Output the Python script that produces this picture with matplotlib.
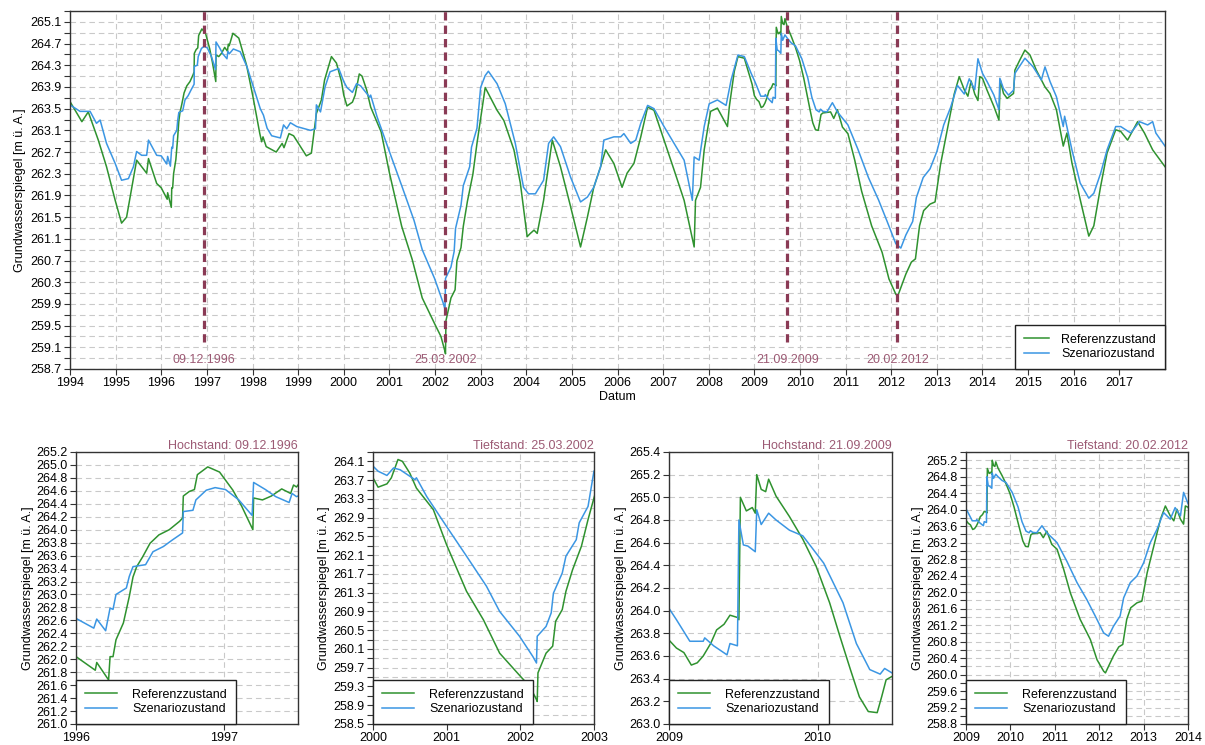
import datetime as dt

import matplotlib.pyplot as plt
import numpy as np

plt.rcParams['font.family'] = ['Liberation Sans', 'DejaVu Sans']
plt.rcParams['font.size'] = 9

# Referenzzustand (decimal year, m ü. A.)
ref_t = [1994.00, 1994.26, 1994.40, 1994.62, 1994.80, 1994.99, 1995.13, 1995.24, 1995.46, 1995.68,
         1995.72, 1995.90, 1996.00, 1996.13, 1996.14, 1996.22, 1996.23, 1996.25, 1996.27, 1996.32,
         1996.36, 1996.385, 1996.41, 1996.45, 1996.50, 1996.56, 1996.63, 1996.70, 1996.72, 1996.725,
         1996.765, 1996.80, 1996.82, 1996.89, 1996.97, 1997.06, 1997.12, 1997.195, 1997.20, 1997.26,
         1997.32, 1997.39, 1997.45, 1997.47, 1997.49, 1997.57, 1997.70, 1997.87, 1998.01, 1998.16,
         1998.20, 1998.23, 1998.30, 1998.52, 1998.65, 1998.69, 1998.80, 1998.90, 1999.18, 1999.29,
         1999.40, 1999.51, 1999.58, 1999.73, 1999.84, 1999.95, 2000.00, 2000.07, 2000.19, 2000.25,
         2000.34, 2000.40, 2000.50, 2000.59, 2000.82, 2001.00, 2001.27, 2001.50, 2001.72, 2002.00,
         2002.13, 2002.22, 2002.23, 2002.24, 2002.35, 2002.44, 2002.48, 2002.57, 2002.62, 2002.71,
         2002.83, 2002.92, 2003.00, 2003.10, 2003.36, 2003.51, 2003.73, 2003.87, 2004.02, 2004.09,
         2004.17, 2004.24, 2004.38, 2004.57, 2004.75, 2004.97, 2005.19, 2005.34, 2005.48, 2005.63,
         2005.74, 2005.92, 2006.10, 2006.21, 2006.36, 2006.51, 2006.66, 2006.80, 2007.02, 2007.24,
         2007.46, 2007.68, 2007.71, 2007.82, 2007.90, 2008.04, 2008.19, 2008.41, 2008.45, 2008.56,
         2008.64, 2008.78, 2008.95, 2009.00, 2009.05, 2009.10, 2009.15, 2009.19, 2009.23, 2009.28,
         2009.32, 2009.37, 2009.41, 2009.46, 2009.47, 2009.48, 2009.52, 2009.56, 2009.58, 2009.59,
         2009.62, 2009.65, 2009.67, 2009.72, 2009.81, 2009.90, 2009.99, 2010.08, 2010.15, 2010.22,
         2010.28, 2010.34, 2010.40, 2010.43, 2010.46, 2010.50, 2010.67, 2010.74, 2010.82, 2010.93,
         2011.05, 2011.20, 2011.35, 2011.57, 2011.80, 2011.95, 2012.10, 2012.14, 2012.32, 2012.44,
         2012.53, 2012.62, 2012.71, 2012.85, 2012.96, 2013.08, 2013.23, 2013.38, 2013.49, 2013.60,
         2013.68, 2013.75, 2013.83, 2013.90, 2013.94, 2014.00, 2014.10, 2014.25, 2014.36, 2014.39,
         2014.46, 2014.54, 2014.68, 2014.71, 2014.82, 2014.93, 2015.04, 2015.18, 2015.37, 2015.48,
         2015.62, 2015.77, 2015.85, 2015.96, 2016.14, 2016.33, 2016.44, 2016.59, 2016.73, 2016.92,
         2017.03, 2017.18, 2017.40, 2017.55, 2017.73, 2018.00]
ref_v = [263.63, 263.26, 263.44, 262.92, 262.43, 261.81, 261.39, 261.50, 262.55, 262.31,
         262.58, 262.12, 262.04, 261.83, 261.95, 261.68, 262.04, 262.04, 262.30, 262.56,
         262.97, 263.27, 263.43, 263.58, 263.79, 263.92, 264.00, 264.13, 264.18, 264.52,
         264.59, 264.62, 264.85, 264.97, 264.89, 264.61, 264.36, 264.00, 264.49, 264.46,
         264.52, 264.63, 264.56, 264.69, 264.66, 264.89, 264.80, 264.30, 263.72, 263.04,
         262.89, 262.98, 262.80, 262.70, 262.86, 262.78, 263.04, 263.00, 262.63, 262.68,
         263.41, 263.66, 264.03, 264.46, 264.34, 264.00, 263.75, 263.55, 263.62, 263.75,
         264.14, 264.10, 263.85, 263.53, 263.07, 262.32, 261.33, 260.72, 260.01, 259.52,
         259.30, 259.02, 258.98, 259.59, 260.01, 260.16, 260.69, 260.94, 261.33, 261.79,
         262.29, 262.86, 263.32, 263.89, 263.47, 263.28, 262.74, 262.13, 261.14, 261.20,
         261.26, 261.20, 261.81, 262.92, 262.43, 261.70, 260.95, 261.50, 262.05, 262.43,
         262.74, 262.49, 262.05, 262.31, 262.49, 262.98, 263.53, 263.47, 262.92, 262.37,
         261.81, 260.95, 261.81, 262.05, 262.74, 263.45, 263.51, 263.17, 263.53, 264.19,
         264.46, 264.43, 263.95, 263.74, 263.67, 263.63, 263.52, 263.54, 263.60, 263.71,
         263.83, 263.88, 263.96, 263.94, 263.92, 265.00, 264.88, 264.91, 264.86, 265.20,
         265.07, 265.05, 265.16, 265.01, 264.83, 264.63, 264.39, 264.07, 263.77, 263.48,
         263.24, 263.11, 263.10, 263.24, 263.39, 263.42, 263.44, 263.32, 263.48, 263.16,
         263.04, 262.55, 261.98, 261.34, 260.85, 260.36, 260.08, 260.04, 260.45, 260.67,
         260.73, 261.34, 261.62, 261.74, 261.78, 262.47, 263.12, 263.77, 264.09, 263.85,
         263.73, 264.01, 263.77, 263.65, 264.09, 264.06, 263.84, 263.54, 263.29, 264.03,
         263.78, 263.69, 263.78, 264.21, 264.40, 264.58, 264.49, 264.21, 263.90, 263.78,
         263.48, 262.81, 263.05, 262.50, 261.83, 261.15, 261.34, 262.07, 262.68, 263.11,
         263.08, 262.92, 263.26, 263.05, 262.74, 262.43]

# Szenariozustand
szen_t = [1994.00, 1994.22, 1994.44, 1994.58, 1994.66, 1994.80, 1994.99, 1995.13, 1995.28, 1995.39,
          1995.46, 1995.57, 1995.68, 1995.72, 1995.90, 1996.00, 1996.12, 1996.14, 1996.20, 1996.23,
          1996.25, 1996.27, 1996.34, 1996.36, 1996.385, 1996.47, 1996.52, 1996.59, 1996.65, 1996.72,
          1996.725, 1996.79, 1996.81, 1996.88, 1996.94, 1997.01, 1997.10, 1997.19, 1997.20, 1997.28,
          1997.35, 1997.44, 1997.46, 1997.49, 1997.58, 1997.73, 1997.88, 1998.02, 1998.17, 1998.24,
          1998.32, 1998.42, 1998.61, 1998.68, 1998.75, 1998.83, 1998.97, 1999.27, 1999.38, 1999.40,
          1999.49, 1999.59, 1999.70, 1999.89, 2000.00, 2000.07, 2000.19, 2000.28, 2000.37, 2000.57,
          2000.59, 2000.73, 2001.00, 2001.27, 2001.54, 2001.72, 2001.99, 2002.17, 2002.22, 2002.23,
          2002.35, 2002.42, 2002.45, 2002.57, 2002.62, 2002.76, 2002.80, 2002.92, 2003.00, 2003.10,
          2003.17, 2003.36, 2003.54, 2003.76, 2003.94, 2004.05, 2004.20, 2004.38, 2004.49, 2004.60,
          2004.75, 2004.97, 2005.19, 2005.34, 2005.48, 2005.63, 2005.70, 2005.92, 2006.07, 2006.14,
          2006.29, 2006.40, 2006.51, 2006.66, 2006.80, 2007.02, 2007.24, 2007.46, 2007.64, 2007.68,
          2007.79, 2007.90, 2008.01, 2008.19, 2008.38, 2008.49, 2008.64, 2008.78, 2008.93, 2009.00,
          2009.05, 2009.14, 2009.23, 2009.24, 2009.30, 2009.39, 2009.41, 2009.46, 2009.47, 2009.50,
          2009.53, 2009.58, 2009.59, 2009.62, 2009.67, 2009.72, 2009.81, 2009.90, 2010.04, 2010.17,
          2010.26, 2010.35, 2010.42, 2010.45, 2010.50, 2010.59, 2010.71, 2010.82, 2011.05, 2011.27,
          2011.50, 2011.72, 2011.91, 2012.10, 2012.21, 2012.32, 2012.47, 2012.55, 2012.70, 2012.85,
          2013.00, 2013.15, 2013.30, 2013.45, 2013.60, 2013.71, 2013.83, 2013.90, 2014.00, 2014.10,
          2014.25, 2014.36, 2014.38, 2014.46, 2014.57, 2014.68, 2014.71, 2014.93, 2015.11, 2015.29,
          2015.37, 2015.48, 2015.62, 2015.77, 2015.80, 2015.96, 2016.14, 2016.33, 2016.44, 2016.59,
          2016.73, 2016.92, 2017.03, 2017.25, 2017.44, 2017.62, 2017.73, 2017.80, 2018.00]
szen_v = [263.57, 263.45, 263.45, 263.23, 263.29, 262.86, 262.49, 262.18, 262.21, 262.43,
          262.71, 262.64, 262.64, 262.92, 262.64, 262.63, 262.48, 262.62, 262.44, 262.79,
          262.77, 263.00, 263.10, 263.28, 263.43, 263.46, 263.66, 263.74, 263.84, 263.95,
          264.28, 264.30, 264.46, 264.61, 264.65, 264.62, 264.46, 264.22, 264.73, 264.62,
          264.51, 264.42, 264.56, 264.51, 264.60, 264.55, 264.27, 263.90, 263.50, 263.38,
          263.14, 263.00, 262.96, 263.20, 263.13, 263.24, 263.17, 263.10, 263.13, 263.57,
          263.44, 263.90, 264.18, 264.24, 264.00, 263.89, 263.80, 263.96, 263.92, 263.71,
          263.75, 263.35, 262.71, 262.08, 261.44, 260.90, 260.37, 259.94, 259.80, 260.37,
          260.58, 260.87, 261.29, 261.72, 262.08, 262.43, 262.79, 263.14, 263.89, 264.11,
          264.19, 263.96, 263.59, 262.86, 262.05, 261.93, 261.93, 262.18, 262.86, 262.98,
          262.80, 262.24, 261.78, 261.87, 262.05, 262.43, 262.92, 262.98, 262.98, 263.04,
          262.86, 262.92, 263.23, 263.56, 263.50, 263.17, 262.86, 262.55, 261.81, 262.61,
          262.55, 263.17, 263.59, 263.66, 263.56, 264.03, 264.49, 264.46, 264.15, 264.02,
          263.92, 263.73, 263.73, 263.76, 263.69, 263.61, 263.71, 263.69, 264.80, 264.58,
          264.57, 264.52, 264.89, 264.76, 264.86, 264.80, 264.71, 264.66, 264.42, 264.07,
          263.71, 263.48, 263.44, 263.49, 263.45, 263.44, 263.61, 263.44, 263.20, 262.75,
          262.23, 261.82, 261.42, 261.01, 260.93, 261.17, 261.42, 261.86, 262.23, 262.39,
          262.71, 263.20, 263.52, 263.93, 263.77, 264.05, 263.85, 264.42, 264.15, 264.00,
          263.75, 263.48, 264.06, 263.87, 263.75, 263.84, 264.15, 264.43, 264.27, 264.03,
          264.27, 264.00, 263.72, 263.17, 263.36, 262.74, 262.13, 261.85, 261.94, 262.31,
          262.74, 263.17, 263.17, 263.05, 263.26, 263.20, 263.26, 263.05, 262.81]

event_dates = ['09.12.1996', '25.03.2002', '21.09.2009', '20.02.2012']
event_kinds = ['Hochstand', 'Tiefstand', 'Hochstand', 'Tiefstand']

# detail panels: x range, y range, y label step
detail_xlim = [(1996, 1997.5), (2000, 2003), (2009, 2010.5), (2009, 2014)]
detail_ylim = [(261.0, 265.2), (258.5, 264.3), (263.0, 265.4), (258.8, 265.4)]
detail_step = [0.2, 0.4, 0.2, 0.4]

GREEN = '#2f922f'
BLUE = '#3b96e3'
MAROON = '#8a3a55'
LABEL_COL = '#9c5a74'
GRID = dict(color='#c9c9c9', linestyle=(0, (5, 3.5)), linewidth=0.8)


def to_year(s):
    d = dt.datetime.strptime(s, '%d.%m.%Y')
    start = dt.datetime(d.year, 1, 1)
    days = (dt.datetime(d.year + 1, 1, 1) - start).days
    return d.year + (d - start).days / days


def style_axes(ax):
    for sp in ax.spines.values():
        sp.set_color('#333333')
        sp.set_linewidth(1.0)
    ax.tick_params(which='both', direction='out', length=4, width=0.8, color='#333333', pad=2)
    ax.set_axisbelow(True)


def draw_series(ax):
    ax.plot(ref_t, ref_v, color=GREEN, lw=1.1, label='Referenzzustand')
    ax.plot(szen_t, szen_v, color=BLUE, lw=1.1, label='Szenariozustand')


fig = plt.figure(figsize=(12.05, 7.45), dpi=100)

# main panel
ax = fig.add_axes([0.0581, 0.5047, 0.9087, 0.4805])
style_axes(ax)
draw_series(ax)
ax.set_xlim(1994, 2018)
ax.set_ylim(258.7, 265.3)
ax.set_xticks(np.arange(1994, 2018))
ax.xaxis.set_major_formatter('{x:.0f}')
ax.set_yticks(np.arange(258.7, 265.2, 0.4))
ax.set_yticks(np.arange(258.9, 265.3, 0.4), minor=True)
ax.yaxis.set_major_formatter('{x:.1f}')
ax.grid(which='both', axis='both', **GRID)
ev_x = [to_year(s) for s in event_dates]
ax.vlines(ev_x, 259.2, 265.3, colors=MAROON, lw=2.3, linestyles=[(0, (2.6, 1.6))], zorder=3)
for x, s in zip(ev_x, event_dates):
    ax.text(x, 258.86, s, ha='center', va='center', color=LABEL_COL, fontsize=9)
ax.set_ylabel('Grundwasserspiegel [m ü. A.]', labelpad=3)
ax.set_xlabel('Datum', labelpad=1)
ax.legend(loc='lower right', borderaxespad=0, fancybox=False, edgecolor='#222222',
          framealpha=1, handlelength=2.0, borderpad=0.7, labelspacing=0.2,
          handletextpad=1.0)

# detail panels
lefts = [0.0631, 0.3095, 0.5552, 0.8017]
widths = [0.1842, 0.1834, 0.1851, 0.1842]
for i in range(4):
    a = fig.add_axes([lefts[i], 0.0282, widths[i], 0.3651])
    style_axes(a)
    draw_series(a)
    x0, x1 = detail_xlim[i]
    y0, y1 = detail_ylim[i]
    a.set_xlim(x0, x1)
    a.set_ylim(y0, y1)
    a.set_xticks(np.arange(int(x0), int(x1) + 1))
    a.xaxis.set_major_formatter('{x:.0f}')
    step = detail_step[i]
    a.set_yticks(np.arange(y0, y1 + 0.01, step))
    if step > 0.2:
        a.set_yticks(np.arange(y0 + 0.2, y1 + 0.01, step), minor=True)
    a.yaxis.set_major_formatter('{x:.1f}')
    a.grid(which='both', axis='both', **GRID)
    a.set_ylabel('Grundwasserspiegel [m ü. A.]', labelpad=2)
    a.set_title(event_kinds[i] + ': ' + event_dates[i], loc='right', color=LABEL_COL,
                fontsize=9, pad=2)
    a.legend(loc='lower left', borderaxespad=0, fancybox=False, edgecolor='#222222',
             framealpha=1, handlelength=2.6, borderpad=0.7, labelspacing=0.2,
             handletextpad=1.2)

fig.savefig('out.png', dpi=100)
